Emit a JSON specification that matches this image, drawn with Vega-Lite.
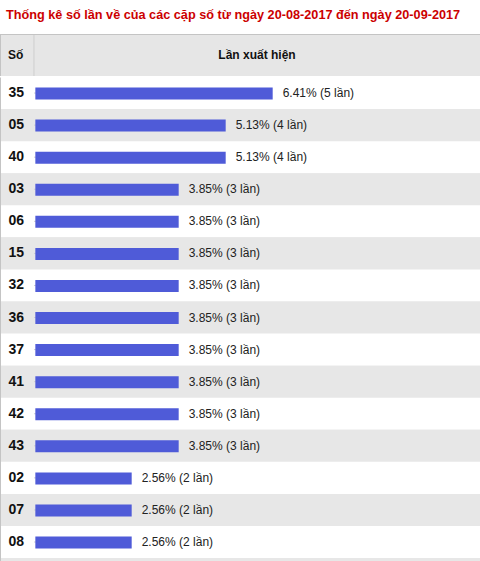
{
  "$schema": "https://vega.github.io/schema/vega-lite/v6.json",
  "padding": {"top": 8, "left": 0, "right": 0, "bottom": 0},
  "background": "white",
  "spacing": 0,
  "title": {
    "text": "Thống kê số lần về của các cặp số từ ngày 20-08-2017 đến ngày 20-09-2017",
    "anchor": "start",
    "dx": 6,
    "offset": 12,
    "font": "Liberation Sans",
    "fontSize": 12.7,
    "fontWeight": "bold",
    "color": "#cc0000"
  },
  "config": {
    "view": {"stroke": null},
    "font": "Liberation Sans"
  },
  "vconcat": [
    {
      "width": 480,
      "height": 42,
      "view": {"fill": "#e6e6e6"},
      "data": {"values": [{}]},
      "layer": [
        {
          "mark": {"type": "rule", "color": "#cfcfcf", "strokeWidth": 1},
          "encoding": {
            "x": {
              "datum": -0.079,
              "type": "quantitative",
              "scale": {"domain": [-0.802, 9.411], "nice": false, "zero": false},
              "axis": {
                "orient": "top",
                "domain": true,
                "domainColor": "#c4c4c4",
                "labels": false,
                "ticks": false,
                "grid": false,
                "title": null,
                "zindex": 1
              }
            }
          }
        },
        {
          "mark": {"type": "rule", "color": "#c4c4c4", "strokeWidth": 1, "xOffset": 0.5},
          "encoding": {"x": {"datum": -0.802, "type": "quantitative"}}
        },
        {
          "mark": {
            "type": "text",
            "text": "Số",
            "align": "left",
            "dx": 8,
            "fontSize": 12,
            "fontWeight": "bold",
            "color": "#111111"
          },
          "encoding": {"x": {"datum": -0.802, "type": "quantitative"}}
        },
        {
          "mark": {
            "type": "text",
            "text": "Lần xuất hiện",
            "align": "center",
            "fontSize": 12,
            "fontWeight": "bold",
            "color": "#111111"
          },
          "encoding": {"x": {"datum": 4.666, "type": "quantitative"}}
        }
      ]
    },
    {
      "width": 480,
      "height": 486,
      "view": {"fill": "#e7e7e7"},
      "data": {
        "values": [
          {"so": "35", "lan": 5, "nhan": "6.41% (5 lần)"},
          {"so": "05", "lan": 4, "nhan": "5.13% (4 lần)"},
          {"so": "40", "lan": 4, "nhan": "5.13% (4 lần)"},
          {"so": "03", "lan": 3, "nhan": "3.85% (3 lần)"},
          {"so": "06", "lan": 3, "nhan": "3.85% (3 lần)"},
          {"so": "15", "lan": 3, "nhan": "3.85% (3 lần)"},
          {"so": "32", "lan": 3, "nhan": "3.85% (3 lần)"},
          {"so": "36", "lan": 3, "nhan": "3.85% (3 lần)"},
          {"so": "37", "lan": 3, "nhan": "3.85% (3 lần)"},
          {"so": "41", "lan": 3, "nhan": "3.85% (3 lần)"},
          {"so": "42", "lan": 3, "nhan": "3.85% (3 lần)"},
          {"so": "43", "lan": 3, "nhan": "3.85% (3 lần)"},
          {"so": "02", "lan": 2, "nhan": "2.56% (2 lần)"},
          {"so": "07", "lan": 2, "nhan": "2.56% (2 lần)"},
          {"so": "08", "lan": 2, "nhan": "2.56% (2 lần)"}
        ]
      },
      "transform": [
        {"window": [{"op": "row_number", "as": "stt"}]}
      ],
      "encoding": {
        "y": {
          "field": "so",
          "type": "nominal",
          "sort": null,
          "scale": {"paddingInner": 0, "paddingOuter": 0.077, "align": 0},
          "axis": {
            "orient": "left",
            "title": null,
            "ticks": false,
            "tickSize": 0,
            "grid": false,
            "domain": true,
            "domainColor": "#c4c4c4",
            "labelAlign": "left",
            "labelPadding": -8,
            "labelFont": "Liberation Sans",
            "labelFontSize": 14,
            "labelFontWeight": "bold",
            "labelColor": "#111111",
            "labelOverlap": false,
            "zindex": 1
          }
        }
      },
      "layer": [
        {
          "mark": {"type": "rect"},
          "encoding": {
            "x": {
              "datum": -0.802,
              "type": "quantitative",
              "scale": {"domain": [-0.802, 9.411], "nice": false, "zero": false},
              "axis": null
            },
            "x2": {"datum": 9.411},
            "fill": {
              "condition": {"test": "datum.stt % 2 == 0", "value": "#e7e7e7"},
              "value": "#ffffff"
            }
          }
        },
        {
          "mark": {"type": "rule", "color": "#cfcfcf", "strokeWidth": 1},
          "encoding": {"x": {"datum": -0.079, "type": "quantitative"}}
        },
        {
          "mark": {"type": "bar", "size": 12, "color": "#4f5bd8", "yOffset": 0.5},
          "encoding": {
            "x": {"field": "lan", "type": "quantitative"},
            "x2": {"datum": -0.05}
          }
        },
        {
          "mark": {
            "type": "text",
            "align": "left",
            "dx": 10,
            "fontSize": 12,
            "color": "#222222"
          },
          "encoding": {
            "x": {"field": "lan", "type": "quantitative"},
            "text": {"field": "nhan"}
          }
        }
      ]
    }
  ]
}
